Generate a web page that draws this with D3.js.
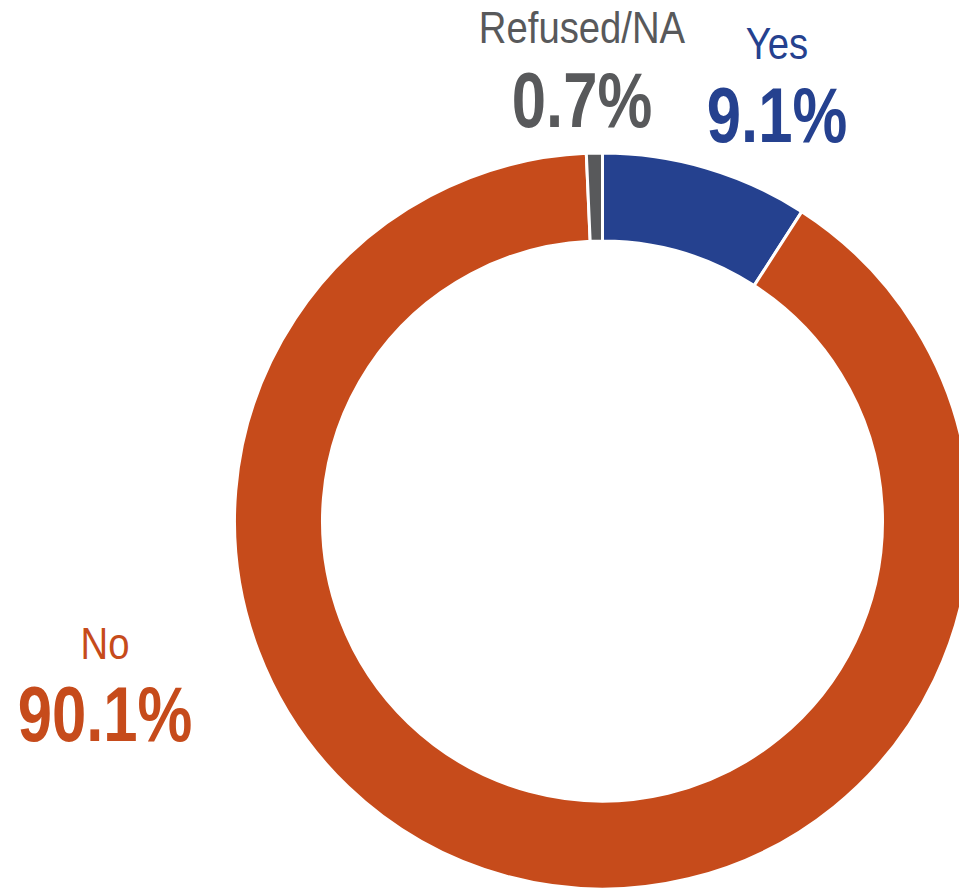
<!DOCTYPE html>
<html>
<head>
<meta charset="utf-8">
<script src="https://cdn.jsdelivr.net/npm/d3@7"></script>
<style>
  body { margin: 0; background: #fff; }
  text { font-family: "Liberation Sans Narrow", "Arial Narrow", "Liberation Sans", sans-serif; }
</style>
</head>
<body>
<div id="c"></div>
<script>
// answers, clockwise from 12 o'clock
var categories = ['Yes', 'No', 'Refused/NA'];
var values = [9.1, 90.1, 0.7];
var colors = ['#25418f', '#c64b1b', '#58595b'];

var width = 959;
var height = 890;

var cx = 602.5, cy = 521;
var outer_r = 368, inner_r = 280;

// where each label block sits (name on top, value below)
var label_pos = {
	'Yes': [777, 59, 142],
	'No': [105, 659, 741],
	'Refused/NA': [582, 43, 127]
};

// no narrow font installed, so squeeze the regular one
var name_sx = 0.87, value_sx = 0.8;

var data = categories.map(function(c, i) {
	return { name: c, value: values[i], color: colors[i] };
});

var svg = d3.select('#c').append('svg')
	.attr('width', width)
	.attr('height', height);

var pie = d3.pie()
	.value(function(d) { return d.value; })
	.sort(null);

var arc = d3.arc()
	.innerRadius(inner_r)
	.outerRadius(outer_r);

var g = svg.append('g')
	.attr('transform', 'translate(' + cx + ',' + cy + ')');

g.selectAll('path')
	.data(pie(data))
	.enter()
	.append('path')
	.attr('d', arc)
	.attr('fill', function(d) { return d.data.color; })
	.attr('stroke', '#fff')
	.attr('stroke-width', 3);

var labels = svg.selectAll('.lbl')
	.data(data)
	.enter()
	.append('g')
	.attr('class', 'lbl');

labels.append('text')
	.attr('transform', function(d) {
		var p = label_pos[d.name];
		return 'translate(' + p[0] + ',' + p[1] + ') scale(' + name_sx + ',1)';
	})
	.attr('text-anchor', 'middle')
	.attr('font-size', 44)
	.attr('fill', function(d) { return d.color; })
	.text(function(d) { return d.name; });

labels.append('text')
	.attr('transform', function(d) {
		var p = label_pos[d.name];
		return 'translate(' + p[0] + ',' + p[2] + ') scale(' + value_sx + ',1)';
	})
	.attr('text-anchor', 'middle')
	.attr('font-size', 77)
	.attr('font-weight', 'bold')
	.attr('fill', function(d) { return d.color; })
	.text(function(d) { return d.value.toFixed(1) + '%'; });
</script>
</body>
</html>
